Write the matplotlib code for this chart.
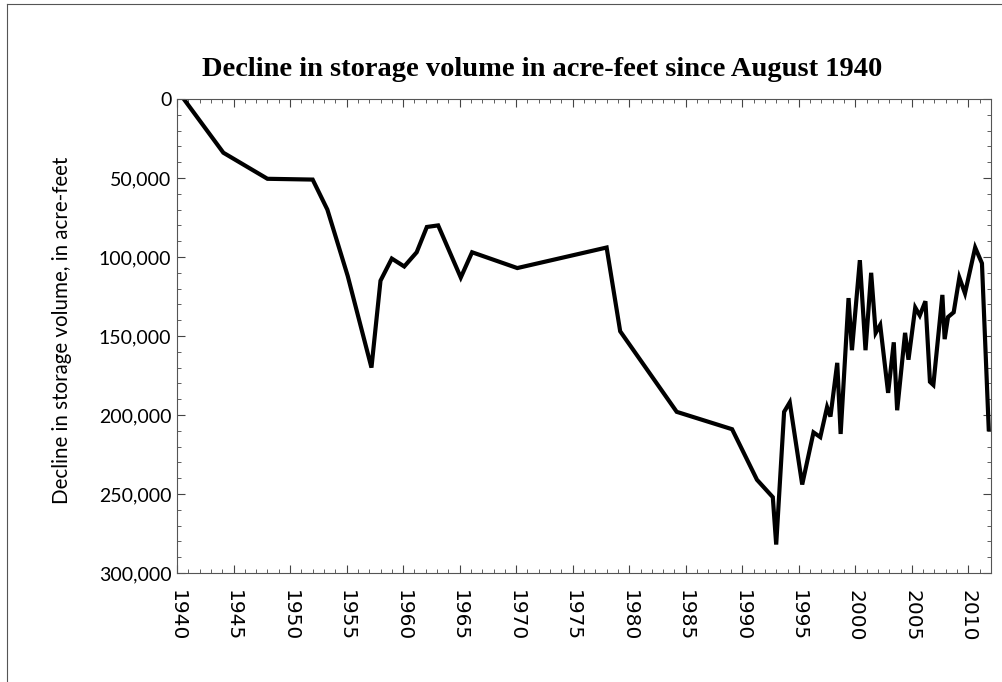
import matplotlib
matplotlib.use("Agg")
import matplotlib.pyplot as plt
from matplotlib.ticker import MultipleLocator, FuncFormatter
from matplotlib.lines import Line2D

years = [1940.6, 1944.1, 1948.0, 1952.0, 1953.3, 1955.1, 1957.2, 1958.0, 1959.0, 1960.1,
         1961.2, 1962.1, 1963.1, 1965.1, 1966.1, 1970.1, 1978.0, 1979.2, 1984.2, 1989.1,
         1991.3, 1992.7, 1993.0, 1993.7, 1994.2, 1995.3, 1996.3, 1996.9, 1997.5, 1997.8,
         1998.4, 1998.7, 1999.4, 1999.7, 2000.4, 2000.9, 2001.4, 2001.8, 2002.2, 2002.9,
         2003.4, 2003.7, 2004.4, 2004.7, 2005.3, 2005.7, 2006.2, 2006.6, 2006.9, 2007.7,
         2007.9, 2008.2, 2008.7, 2009.2, 2009.7, 2010.6, 2011.2, 2011.8]
decline = [0, 34000, 50500, 51000, 70000, 112000, 170000, 115000, 101000, 106000,
           97000, 81000, 80000, 113000, 97000, 107000, 94000, 147000, 198000, 209000,
           241000, 252000, 282000, 198000, 192000, 244000, 211000, 214000, 195000, 201000,
           167000, 212000, 126000, 159000, 102000, 159000, 110000, 148000, 143000, 186000,
           154000, 197000, 148000, 165000, 132000, 137000, 128000, 179000, 181000, 124000,
           152000, 138000, 135000, 113000, 123000, 94000, 104000, 209000]

title = "Decline in storage volume in acre-feet since August 1940"
ylabel = "Decline in storage volume, in acre-feet"

fig = plt.figure(figsize=(10.03, 6.82), dpi=100)
ax = fig.add_axes([177/1003, 1-573/682, (991-177)/1003, (573-99)/682])

ax.plot(years, decline, color="black", lw=3.0, solid_joinstyle="miter")
ax.set_xlim(1940, 2012)
ax.set_ylim(300000, 0)

ax.xaxis.set_major_locator(MultipleLocator(5))
ax.xaxis.set_minor_locator(MultipleLocator(1))
ax.yaxis.set_major_locator(MultipleLocator(50000))
ax.yaxis.set_minor_locator(MultipleLocator(10000))
ax.yaxis.set_major_formatter(FuncFormatter(lambda v, p: f"{int(v):,}"))

ax.tick_params(axis="both", which="both", direction="in", top=True, right=True,
               color="#444444")
ax.tick_params(axis="both", which="major", length=6, width=0.8)
ax.tick_params(axis="both", which="minor", length=3, width=0.6)
ax.tick_params(axis="x", which="major", pad=12)
ax.tick_params(axis="y", which="major", pad=4)

for lab in ax.get_xticklabels():
    lab.set_rotation(-90)
    lab.set_fontfamily("DejaVu Sans")
    lab.set_fontsize(14.5)
    lab.set_va("top")
for lab in ax.get_yticklabels():
    lab.set_fontfamily("Lato")
    lab.set_fontsize(14)

for s in ax.spines.values():
    s.set_color("#555555")
    s.set_linewidth(0.8)

fig.text(542/1003, 1-70/682, title, ha="center", va="center",
         fontfamily="Liberation Serif", fontweight="bold", fontsize=20.5)
fig.text(62/1003, 1-330/682, ylabel, ha="center", va="center", rotation=90,
         fontfamily="Lato", fontsize=14.8)

# outer frame of the original image
fig.add_artist(Line2D([7/1003, 7/1003], [0, 1-4/682], transform=fig.transFigure,
                      color="#555555", lw=0.8))
fig.add_artist(Line2D([7/1003, 1], [1-4/682, 1-4/682], transform=fig.transFigure,
                      color="#555555", lw=0.8))

fig.savefig("out.png", dpi=100)
